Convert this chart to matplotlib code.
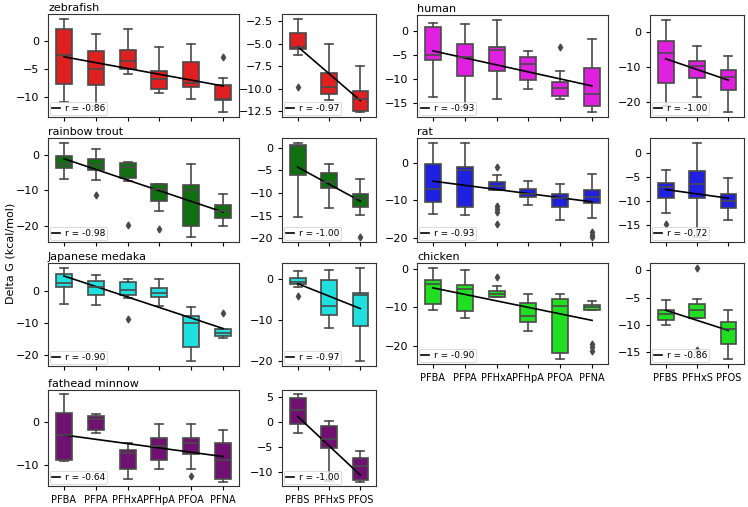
import matplotlib
matplotlib.use("Agg")
import matplotlib.pyplot as plt
from matplotlib.ticker import MultipleLocator
import numpy as np

carb = ["PFBA", "PFPA", "PFHxA", "PFHpA", "PFOA", "PFNA"]
sulf = ["PFBS", "PFHxS", "PFOS"]

# each box: (whisker low, q1, median, q3, whisker high)
zebrafish_carb = [(-10.8, -7.6, -2.4, 2.1, 4.0), (-11.5, -7.9, -4.9, -1.8, 1.2),
                  (-5.9, -5.0, -3.5, -1.6, 2.2), (-9.3, -8.5, -6.7, -5.3, -1.0),
                  (-10.3, -8.1, -7.5, -3.8, -0.5), (-12.7, -10.5, -10.3, -7.9, -6.6)]
zebrafish_carb_fliers = [[], [], [], [], [], [-2.9]]
zebrafish_carb_fit = [-2.8, -8.0]
zebrafish_sulf = [(-6.2, -5.6, -5.3, -3.8, -2.2), (-11.2, -10.6, -9.8, -8.2, -5.0),
                  (-12.6, -12.5, -11.1, -10.2, -7.5)]
zebrafish_sulf_fliers = [[-9.8], [], []]
zebrafish_sulf_fit = [-5.3, -11.3]

trout_carb = [(-6.7, -3.6, -2.7, -0.4, 3.4), (-7.2, -4.2, -3.0, -1.1, 1.5),
              (-7.5, -6.4, -3.5, -2.2, -2.1), (-15.8, -13.0, -9.7, -8.1, -8.1),
              (-23.2, -20.1, -9.8, -8.6, -2.5), (-20.1, -17.7, -15.8, -14.0, -10.9)]
trout_carb_fliers = [[], [-11.2], [-19.8], [-21.0], [], []]
trout_carb_fit = [-1.1, -16.1]
trout_sulf = [(-15.3, -6.1, 0.3, 0.5, 1.1), (-13.4, -9.0, -7.6, -5.7, -3.7),
              (-14.9, -13.1, -11.2, -10.3, -6.9)]
trout_sulf_fliers = [[], [], [-19.8]]
trout_sulf_fit = [-4.3, -11.8]

medaka_carb = [(-4.2, 1.3, 2.5, 5.2, 7.3), (-4.5, -1.2, 1.3, 3.1, 5.1),
               (-2.2, -1.2, 0.2, 2.8, 3.7), (-4.7, -1.9, -0.8, 1.0, 3.7),
               (-22.1, -17.6, -10.0, -8.0, -5.0), (-14.8, -14.1, -13.1, -11.8, -11.8)]
medaka_carb_fliers = [[], [], [-8.9], [], [], [-6.9]]
medaka_carb_fit = [4.7, -11.8]
medaka_sulf = [(-2.0, -1.2, -0.8, 0.2, 2.0), (-12.0, -8.9, -6.7, -0.2, 2.2),
               (-20.2, -11.6, -3.9, -3.4, 2.7)]
medaka_sulf_fliers = [[-4.2], [], []]
medaka_sulf_fit = [-1.2, -7.3]

fathead_carb = [(-9.0, -8.7, -3.0, 2.0, 6.4), (-2.6, -1.8, 0.8, 1.5, 1.8),
                (-13.3, -10.8, -7.2, -6.4, -4.9), (-10.8, -8.7, -5.6, -3.6, -0.5),
                (-10.8, -7.4, -4.9, -3.6, -0.5), (-13.8, -13.3, -8.7, -4.9, -1.8)]
fathead_carb_fliers = [[], [], [], [], [-12.6], []]
fathead_carb_fit = [-3.0, -8.0]
fathead_sulf = [(-2.3, -0.4, 2.3, 4.7, 5.5), (-11.8, -5.1, -3.4, -0.9, 0.2),
                (-11.9, -11.5, -8.7, -7.2, -5.7)]
fathead_sulf_fliers = [[], [], []]
fathead_sulf_fit = [1.1, -10.6]

human_carb = [(-13.7, -6.1, -5.0, 0.8, 1.6), (-15.8, -9.5, -5.5, -2.8, 1.4),
              (-14.3, -8.3, -4.1, -3.4, 2.3), (-12.1, -10.3, -6.9, -5.4, -4.3),
              (-14.3, -13.6, -11.9, -10.6, -8.3), (-17.0, -15.7, -13.2, -7.7, -1.7)]
human_carb_fliers = [[], [], [], [], [-3.4], []]
human_carb_fit = [-4.2, -11.5]
human_sulf = [(-21.0, -14.6, -5.9, -2.6, 3.6), (-18.4, -13.2, -9.7, -8.2, -3.9),
              (-22.9, -16.5, -12.9, -10.8, -6.9)]
human_sulf_fliers = [[], [], []]
human_sulf_fit = [-7.6, -13.7]

rat_carb = [(-13.5, -10.4, -7.1, -0.4, 5.2), (-13.8, -11.8, -2.0, -1.1, 5.3),
            (-7.3, -7.3, -6.2, -5.1, -3.3), (-11.3, -9.1, -8.3, -6.9, -4.9),
            (-15.3, -11.8, -9.5, -8.4, -5.6), (-14.7, -10.8, -9.2, -7.3, -2.9)]
rat_carb_fliers = [[], [], [-1.1, -11.6, -12.4, -13.1, -16.2], [], [], [-18.4, -19.1, -19.8]]
rat_carb_fit = [-4.9, -10.4]
rat_sulf = [(-12.4, -9.4, -7.1, -6.3, -3.6), (-17.5, -9.4, -6.5, -3.7, 2.1),
            (-14.0, -11.4, -10.0, -8.6, -5.3)]
rat_sulf_fliers = [[-14.8], [], []]
rat_sulf_fit = [-7.6, -9.4]

chicken_carb = [(-10.6, -9.2, -3.8, -2.8, 0.4), (-12.9, -10.9, -5.1, -4.1, -0.2),
                (-7.4, -7.4, -6.4, -5.7, -4.3), (-16.2, -13.9, -12.2, -8.9, -6.6),
                (-23.6, -22.0, -9.6, -7.8, -6.6), (-10.8, -10.8, -9.8, -9.5, -8.3)]
chicken_carb_fliers = [[], [], [-2.1], [], [], [-19.6, -20.4, -21.3]]
chicken_carb_fit = [-4.9, -13.4]
chicken_sulf = [(-10.0, -9.0, -8.0, -7.3, -5.4), (-8.8, -8.8, -7.3, -6.2, -5.2),
                (-16.3, -13.5, -10.7, -9.5, -7.3)]
chicken_sulf_fliers = [[], [0.5, -14.5], []]
chicken_sulf_fit = [-7.3, -11.0]

r_values = {"zebrafish": (-0.86, -0.97), "rainbow trout": (-0.98, -1.00),
            "Japanese medaka": (-0.90, -0.97), "fathead minnow": (-0.64, -1.00),
            "human": (-0.93, -1.00), "rat": (-0.93, -0.72), "chicken": (-0.90, -0.86)}

gray = "#4a4a4a"

W, H = 748, 507
fig = plt.figure(figsize=(W / 100, H / 100), dpi=100)


def add_ax(x0, x1, y0, y1):
    return fig.add_axes([x0 / W, 1 - y1 / H, (x1 - x0) / W, (y1 - y0) / H])


def draw(ax, boxes, fliers, fit, r, color, step, labels, show_labels):
    stats = [dict(whislo=b[0], q1=b[1], med=b[2], q3=b[3], whishi=b[4], fliers=f)
             for b, f in zip(boxes, fliers)]
    pos = np.arange(len(boxes))
    ax.bxp(stats, positions=pos, widths=0.5, patch_artist=True, showfliers=True,
           boxprops=dict(facecolor=color, edgecolor=gray, linewidth=1.2),
           medianprops=dict(color=gray, linewidth=1.2),
           whiskerprops=dict(color=gray, linewidth=1.2),
           capprops=dict(color=gray, linewidth=1.2),
           flierprops=dict(marker="d", markerfacecolor=gray, markeredgecolor=gray,
                           markersize=3.5))
    ax.plot([pos[0], pos[-1]], fit, color="black", lw=1.2, label=f"r = {r:.2f}")
    ax.set_xlim(-0.5, len(boxes) - 0.5)
    ax.yaxis.set_major_locator(MultipleLocator(step))
    ax.set_xticks(pos)
    if show_labels:
        ax.set_xticklabels(labels, fontsize=7)
    else:
        ax.set_xticklabels([])
    ax.tick_params(axis="y", labelsize=8)
    ax.tick_params(length=3, width=0.8)
    leg = ax.legend(loc="lower left", fontsize=6.5, handlelength=0.9, handletextpad=0.5,
                    borderpad=0.25, borderaxespad=0.2, framealpha=0.8)
    leg.get_frame().set_linewidth(0.6)
    for s in ax.spines.values():
        s.set_linewidth(0.8)
        s.set_color("#333333")


left_rows = [(14, 117), (138, 242), (263, 366), (390, 486)]
right_rows = [(15, 117), (138, 242), (263, 364)]

left = [("zebrafish", "#df2020", zebrafish_carb, zebrafish_carb_fliers, zebrafish_carb_fit,
         zebrafish_sulf, zebrafish_sulf_fliers, zebrafish_sulf_fit, 5, 2.5),
        ("rainbow trout", "#107010", trout_carb, trout_carb_fliers, trout_carb_fit,
         trout_sulf, trout_sulf_fliers, trout_sulf_fit, 10, 5),
        ("Japanese medaka", "#20dfdf", medaka_carb, medaka_carb_fliers, medaka_carb_fit,
         medaka_sulf, medaka_sulf_fliers, medaka_sulf_fit, 10, 10),
        ("fathead minnow", "#701070", fathead_carb, fathead_carb_fliers, fathead_carb_fit,
         fathead_sulf, fathead_sulf_fliers, fathead_sulf_fit, 10, 5)]
right = [("human", "#df20df", human_carb, human_carb_fliers, human_carb_fit,
          human_sulf, human_sulf_fliers, human_sulf_fit, 5, 10),
         ("rat", "#2020df", rat_carb, rat_carb_fliers, rat_carb_fit,
          rat_sulf, rat_sulf_fliers, rat_sulf_fit, 10, 5),
         ("chicken", "#20df20", chicken_carb, chicken_carb_fliers, chicken_carb_fit,
          chicken_sulf, chicken_sulf_fliers, chicken_sulf_fit, 10, 5)]

for specs, rows, xw, xn in [(left, left_rows, (48, 239), (282, 376)),
                            (right, right_rows, (417, 608), (650, 744))]:
    for i, (name, color, cb, cf, cfit, sb, sf, sfit, st1, st2) in enumerate(specs):
        y0, y1 = rows[i]
        last = i == len(specs) - 1
        r1, r2 = r_values[name]
        ax1 = add_ax(xw[0], xw[1], y0, y1)
        draw(ax1, cb, cf, cfit, r1, color, st1, carb, last)
        ax1.set_title(name, loc="left", fontsize=8, pad=2)
        ax2 = add_ax(xn[0], xn[1], y0, y1)
        draw(ax2, sb, sf, sfit, r2, color, st2, sulf, last)

fig.text(0.014, 0.5, "Delta G (kcal/mol)", rotation=90, va="center", ha="center", fontsize=8)

fig.savefig("out.png", dpi=100)
